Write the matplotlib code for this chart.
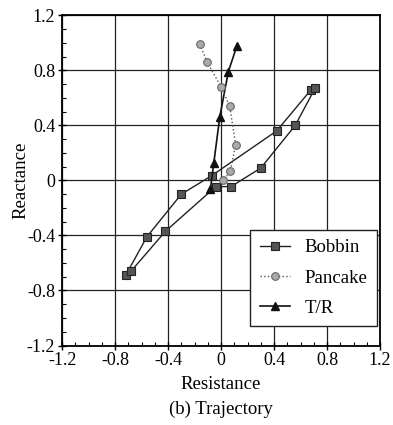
import numpy as np
import matplotlib
matplotlib.use("Agg")
import matplotlib.pyplot as plt
from matplotlib.ticker import MultipleLocator

plt.rcParams['font.family'] = ['Liberation Serif', 'DejaVu Serif']

# trajectories in the impedance plane
bobbin_x = [-0.72, -0.56, -0.30, -0.07, 0.42, 0.68, 0.71, 0.56, 0.30, 0.075, -0.04, -0.42, -0.68]
bobbin_y = [-0.69, -0.41, -0.10, 0.035, 0.36, 0.66, 0.67, 0.40, 0.09, -0.045, -0.045, -0.37, -0.66]

pancake_x = [-0.16, -0.105, 0.0, 0.065, 0.11, 0.07, 0.015]
pancake_y = [0.99, 0.86, 0.68, 0.54, 0.26, 0.065, 0.0]

tr_x = [-0.08, -0.055, -0.01, 0.055, 0.12]
tr_y = [-0.06, 0.125, 0.46, 0.79, 0.98]

ticks = [-1.2, -0.8, -0.4, 0, 0.4, 0.8, 1.2]
tick_labels = ["-1.2", "-0.8", "-0.4", "0", "0.4", "0.8", "1.2"]

fig = plt.figure(figsize=(3.93, 4.25), dpi=100)
ax = fig.add_axes([0.158, 0.187, 0.809, 0.777])

ax.plot(bobbin_x, bobbin_y, "-", color="#222", lw=1.0, marker="s", ms=6,
        mfc="#555", mec="#222", mew=0.8, label="Bobbin", zorder=3)
ax.plot(pancake_x, pancake_y, ":", color="#555", lw=1.0, marker="o", ms=5.5,
        mfc="#aaa", mec="#666", mew=0.8, label="Pancake", zorder=4)
ax.plot(tr_x, tr_y, "-", color="#111", lw=1.2, marker="^", ms=5.5,
        mfc="#111", mec="#111", label="T/R", zorder=3)

ax.set_xlim(-1.2, 1.2)
ax.set_ylim(-1.2, 1.2)
ax.set_xticks(ticks)
ax.set_xticklabels(tick_labels)
ax.set_yticks(ticks)
ax.set_yticklabels(tick_labels)
ax.xaxis.set_minor_locator(MultipleLocator(0.1))
ax.yaxis.set_minor_locator(MultipleLocator(0.1))
ax.tick_params(which="major", direction="inout", length=6, width=1, labelsize=13, pad=2)
ax.tick_params(which="minor", direction="in", length=3, width=0.8)
ax.grid(True, which="major", color="#222", lw=0.9)
for s in ax.spines.values():
    s.set_linewidth(1.3)

ax.set_xlabel("Resistance", fontsize=13.5, labelpad=5)
ax.set_ylabel("Reactance", fontsize=13.5, labelpad=-2)
fig.text(0.562, 0.027, "(b) Trajectory", ha="center", fontsize=13.5)

leg = ax.legend(loc="upper right", bbox_to_anchor=(0.99, 0.35), fontsize=13.5,
                frameon=True, fancybox=False, handlelength=1.6, borderpad=0.5,
                labelspacing=0.7, handletextpad=0.8, borderaxespad=0, framealpha=1)
leg.get_frame().set_edgecolor("#222")
leg.get_frame().set_linewidth(1.0)

fig.savefig("out.png", dpi=100)
